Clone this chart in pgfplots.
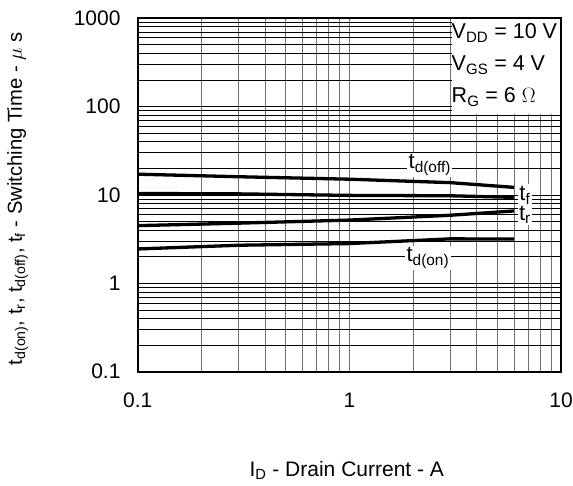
\documentclass[border=0pt]{standalone}
\usepackage{fontspec}
\setmainfont{Liberation Sans}
\usepackage{pgfplots}
\pgfplotsset{compat=1.18}

\newcommand{\ts}[1]{\textsubscript{#1}}

\begin{document}
\begin{tikzpicture}[x=1pt,y=1pt]
\path[use as bounding box] (0,0) rectangle (573,485);
\begin{axis}[
  at={(137.7pt,113.3pt)}, anchor=south west,
  width=423.3pt, height=353.4pt, scale only axis,
  xmode=log, ymode=log,
  xmin=0.1, xmax=10, ymin=0.1, ymax=1000,
  xtick={0.1,1,10}, xticklabels={0.1,1,10},
  ytick={0.1,1,10,100,1000}, yticklabels={0.1,1,10,100,1000},
  grid=both,
  major x grid style={black!55, line width=1pt},
  minor x grid style={black!55, line width=0.9pt},
  major y grid style={black, line width=0.8pt},
  minor y grid style={black, line width=0.8pt},
  major tick length=0pt, minor tick length=0pt,
  axis line style={line width=1.9pt},
  tick label style={font=\fontsize{21}{24}\selectfont},
  xticklabel style={anchor=north, inner sep=0pt, yshift=-21pt},
  yticklabel style={anchor=east, inner sep=0pt, xshift=-17pt},
  xlabel={I\ts{D} - Drain Current - A},
  ylabel={t\ts{d(on)}, t\ts{r}, t\ts{d(off)}, t\ts{f} - Switching Time - $\mu$ s},
  xlabel style={font=\fontsize{21}{24}\selectfont, at={(axis description cs:0.494,-0.278)}, anchor=center},
  ylabel style={font=\fontsize{20.2}{24}\selectfont, at={(axis description cs:-0.2836,0.489)}, anchor=center},
]
% box with test conditions
\fill[white] (axis cs:3.04,83) rectangle (axis cs:9.85,985);

% t_d(off)
\addplot[black, line width=3.3pt] coordinates {(0.1,17.2) (0.3,16.1) (1,15.1) (3,13.8) (6,12.2)};
% t_f
\addplot[black, line width=3.3pt] coordinates {(0.1,10.4) (0.3,10.3) (1,9.9) (3,9.8) (6,9.4)};
% t_r
\addplot[black, line width=3.3pt] coordinates {(0.1,4.5) (0.3,4.8) (1,5.2) (3,5.9) (6,6.6)};
% t_d(on)
\addplot[black, line width=3.3pt] coordinates {(0.1,2.45) (0.3,2.7) (1,2.82) (3,3.19) (6,3.17)};

\begin{scope}[every node/.style={fill=white, inner sep=1.5pt, font=\fontsize{22}{24}\selectfont}]
\node at (axis cs:2.40,21.9) {t\ts{d(off)}};
\node at (axis cs:6.75,10.0) {t\ts{f}};
\node at (axis cs:6.75,5.94) {t\ts{r}};
\node at (axis cs:2.35,1.94) {t\ts{d(on)}};
\end{scope}

\begin{scope}[every node/.style={anchor=west, inner sep=0pt, font=\fontsize{21.5}{24}\selectfont}]
\node at (axis cs:3.04,682) {V\ts{DD} = 10 V};
\node at (axis cs:3.04,296) {V\ts{GS} = 4 V};
\node at (axis cs:3.04,128.5) {R\ts{G} = 6 $\Omega$};
\end{scope}
\end{axis}
\end{tikzpicture}
\end{document}
